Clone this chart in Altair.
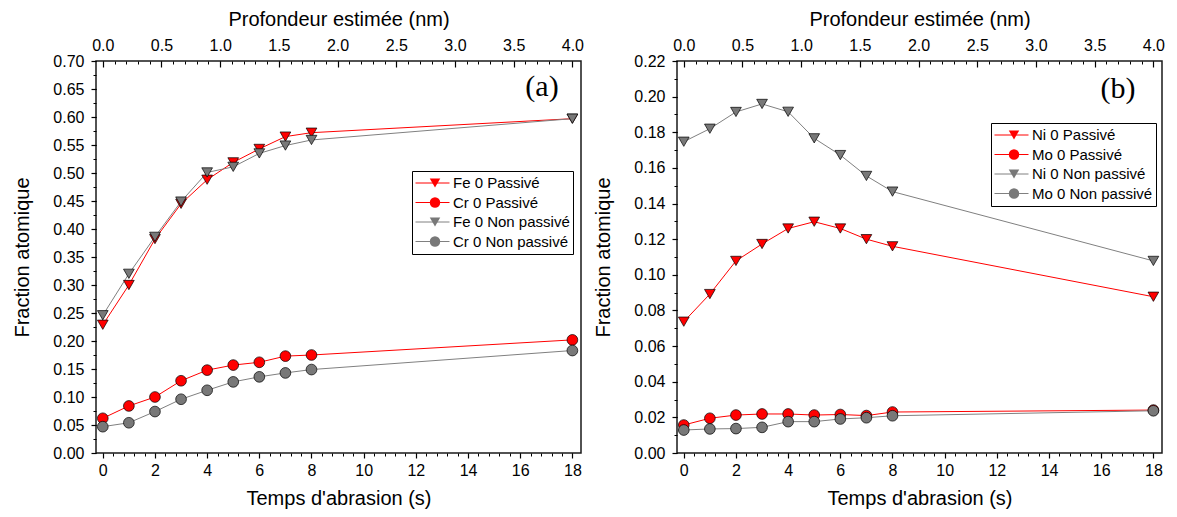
import altair as alt
import pandas as pd

# ---------------- data ----------------
t = [0, 1, 2, 3, 4, 5, 6, 7, 8, 18]

names_a = ["Fe 0 Passivé", "Cr 0 Passivé", "Fe 0 Non passivé", "Cr 0 Non passivé"]
fe_pass = [0.229, 0.300, 0.382, 0.445, 0.488, 0.519, 0.543, 0.565, 0.572, 0.597]
cr_pass = [0.062, 0.084, 0.100, 0.129, 0.148, 0.157, 0.162, 0.173, 0.175, 0.202]
fe_non = [0.246, 0.320, 0.386, 0.449, 0.501, 0.511, 0.535, 0.549, 0.559, 0.597]
cr_non = [0.047, 0.054, 0.074, 0.096, 0.112, 0.127, 0.136, 0.143, 0.149, 0.183]

names_b = ["Ni 0 Passivé", "Mo 0 Passivé", "Ni 0 Non passivé", "Mo 0 Non passivé"]
ni_pass = [0.0737, 0.0892, 0.1078, 0.1173, 0.1260, 0.1298, 0.1260, 0.1200, 0.1160, 0.0877]
mo_pass = [0.0157, 0.0195, 0.0213, 0.0219, 0.0219, 0.0213, 0.0216, 0.0210, 0.0230, 0.0241]
ni_non = [0.1747, 0.1820, 0.1914, 0.1959, 0.1915, 0.1766, 0.1672, 0.1555, 0.1467, 0.1078]
mo_non = [0.0129, 0.0135, 0.0137, 0.0144, 0.0176, 0.0176, 0.0191, 0.0198, 0.0209, 0.0237]

shapes = ["triangle-down", "circle", "triangle-down", "circle"]
line_colors = ["#ff0000", "#ff0000", "#808080", "#808080"]
fill_colors = ["#ff0000", "#ff0000", "#787878", "#787878"]

NM_PER_S = 4.5  # 18 s of abrasion ~ 4.0 nm

W, H = 485, 392
FONT = "Liberation Sans"
XDOM = [-0.26, 18.33]


def build_df(names, series):
    rows = []
    for name, vals in zip(names, series):
        for ti, v in zip(t, vals):
            rows.append({"t": ti, "v": v, "series": name, "series_m": name + " "})
    return pd.DataFrame(rows)


def panel(names, series, ymax, ystep, tag, tag_xy, leg_xy):
    df = build_df(names, series)
    base = alt.Chart(df)
    xs = alt.Scale(domain=XDOM, nice=False, zero=False)
    ys = alt.Scale(domain=[0, ymax], nice=False, zero=False)

    nmaj = int(round(ymax / ystep))
    ymaj = [round(i * ystep, 4) for i in range(nmaj + 1)]
    ymin = [round(i * ystep / 2, 4) for i in range(2 * nmaj + 1)]
    xmaj = [i * 2 for i in range(10)]
    xmin = [round(i * 0.4, 3) for i in range(46)]
    topmaj = [round(i * 0.5 * NM_PER_S, 3) for i in range(9)]
    topmin = [round(i * 0.1 * NM_PER_S, 3) for i in range(41)]

    lx, ly = leg_xy
    line_legend = alt.Legend(
        orient="none", legendX=lx, legendY=ly, title=None,
        symbolType="stroke", symbolSize=1156, symbolStrokeWidth=1,
        labelFont=FONT, labelFontSize=15, labelColor="black", labelOffset=3,
        strokeColor="black", fillColor="white", padding=3, rowPadding=1.5,
        clipHeight=18, zindex=1,
    )
    mark_legend = alt.Legend(
        orient="none", legendX=lx, legendY=ly, title=None,
        symbolSize=110, symbolStrokeColor="black", symbolStrokeWidth=0.7,
        symbolOffset=12.5, labelOpacity=0,
        labelFont=FONT, labelFontSize=15, labelOffset=3,
        padding=3, rowPadding=1.5, clipHeight=18, zindex=2,
    )

    lines = base.mark_line(strokeWidth=1).encode(
        x=alt.X("t:Q", scale=xs, axis=alt.Axis(
            orient="bottom", values=xmaj, format="d", tickSize=5, tickWidth=1.2,
            labelPadding=4, title="Temps d'abrasion (s)", titlePadding=10)),
        y=alt.Y("v:Q", scale=ys, axis=alt.Axis(
            orient="left", values=ymaj, format=".2f", tickSize=5, tickWidth=1.2,
            labelPadding=7, title="Fraction atomique", titlePadding=20)),
        stroke=alt.Stroke("series:N", scale=alt.Scale(domain=names, range=line_colors),
                          legend=line_legend),
    )

    mdom = [n + " " for n in names]
    points = base.mark_point(filled=True, size=115, stroke="black",
                             strokeWidth=0.7, opacity=1).encode(
        x=alt.X("t:Q", axis=None),
        y=alt.Y("v:Q", axis=None),
        fill=alt.Fill("series_m:N", scale=alt.Scale(domain=mdom, range=fill_colors),
                      legend=mark_legend),
        shape=alt.Shape("series_m:N", scale=alt.Scale(domain=mdom, range=shapes),
                        legend=mark_legend),
    )

    minor = base.mark_point(opacity=0).encode(
        x=alt.X("t:Q", axis=alt.Axis(orient="bottom", values=xmin, labels=False,
                                     tickSize=3, tickWidth=1, title=None)),
        y=alt.Y("v:Q", axis=alt.Axis(orient="left", values=ymin, labels=False,
                                     tickSize=3, tickWidth=1, title=None)),
    )

    top_labels = base.mark_point(opacity=0).encode(
        x=alt.X("t:Q", axis=alt.Axis(
            orient="top", values=topmaj, ticks=False,
            labelExpr=f"format(datum.value / {NM_PER_S}, '.1f')",
            labelPadding=8, title="Profondeur estimée (nm)", titlePadding=8)),
        y=alt.Y("v:Q", axis=None),
    )

    top_major = base.mark_point(opacity=0).encode(
        x=alt.X("t:Q", axis=alt.Axis(orient="bottom", offset=-H, values=topmaj,
                                     labels=False, tickSize=6, tickWidth=1.2, title=None)),
        y=alt.Y("v:Q", axis=None),
    )
    top_minor = base.mark_point(opacity=0).encode(
        x=alt.X("t:Q", axis=alt.Axis(orient="bottom", offset=-H, values=topmin,
                                     labels=False, tickSize=3, tickWidth=1, title=None)),
        y=alt.Y("v:Q", axis=None),
    )

    label = alt.Chart(pd.DataFrame({"s": [tag]})).mark_text(
        font="Liberation Serif", fontSize=30, color="black"
    ).encode(text="s:N", x=alt.value(tag_xy[0]), y=alt.value(tag_xy[1]))

    return alt.layer(lines, points, minor, top_labels, top_major, top_minor, label).resolve_scale(
        x="shared", y="shared"
    ).resolve_axis(x="independent", y="independent").properties(width=W, height=H)


pa = panel(names_a, [fe_pass, cr_pass, fe_non, cr_non], 0.70, 0.05, "(a)", (446, 26), (316, 110))
pb = panel(names_b, [ni_pass, mo_pass, ni_non, mo_non], 0.22, 0.02, "(b)", (441, 28), (314, 62))

chart = alt.hconcat(pa, pb, spacing=8).resolve_scale(
    x="independent", y="independent", stroke="independent",
    fill="independent", shape="independent"
).resolve_legend(
    stroke="independent", fill="independent", shape="independent"
).properties(
    padding={"left": 4, "top": 0, "right": 0, "bottom": 0}
).configure_view(
    stroke="#1a1a1a", strokeWidth=1.5
).configure_axis(
    labelFont=FONT, labelFontSize=16, labelColor="black",
    titleFont=FONT, titleFontSize=20, titleFontWeight="normal", titleColor="black",
    tickColor="black", domain=False, grid=False,
)

chart.save("out.html", embed_options={"renderer": "svg", "actions": False})
